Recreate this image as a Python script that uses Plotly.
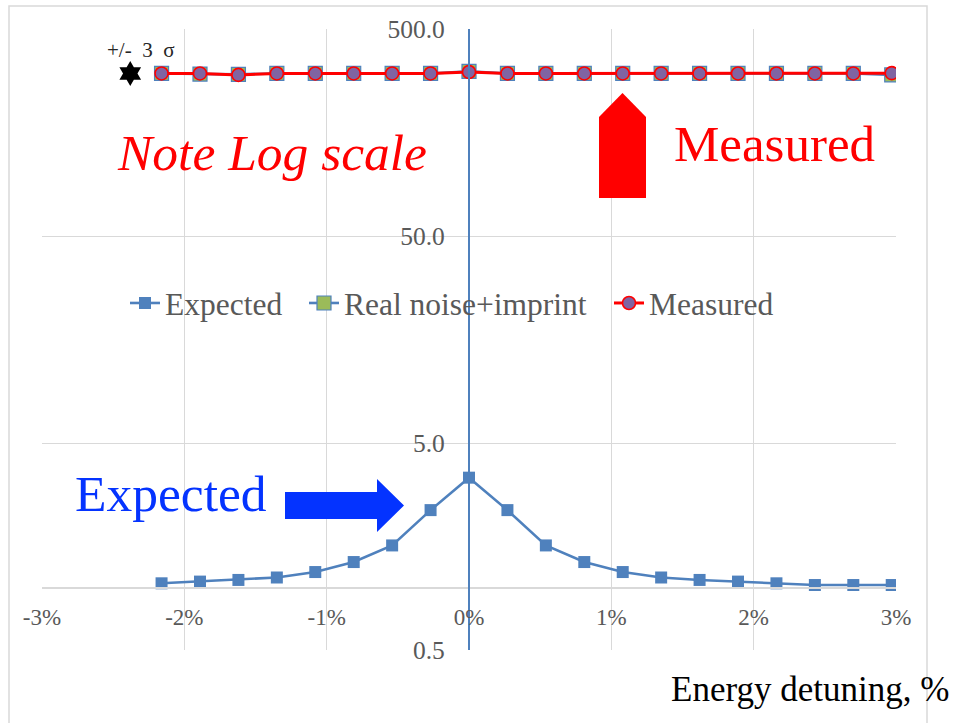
import plotly.graph_objects as go

# Energy detuning (%) of each measurement point
detuning = [-2.16, -1.89, -1.62, -1.35, -1.08, -0.81, -0.54, -0.27, 0.0, 0.27,
            0.54, 0.81, 1.08, 1.35, 1.62, 1.89, 2.16, 2.43, 2.70, 2.97]

expected = [1.05, 1.07, 1.09, 1.12, 1.19, 1.33, 1.60, 2.37, 3.40, 2.37,
            1.60, 1.33, 1.19, 1.12, 1.09, 1.07, 1.05, 1.03, 1.03, 1.03]

real_noise = [305, 303, 302, 305, 305, 305, 305, 305, 312, 305,
              305, 305, 305, 305, 305, 305, 305, 305, 305, 300]

measured = [305, 305, 300, 305, 305, 305, 305, 305, 310, 305,
            305, 305, 305, 305, 305, 305, 305, 305, 305, 306]

x_ticks = [-3, -2, -1, 0, 1, 2, 3]
x_ticktext = ["-3%", "-2%", "-1%", "0%", "1%", "2%", "3%"]
y_ticks = [0.5, 5, 50, 500]
y_ticktext = ["0.5", "5.0", "50.0", "500.0"]

# marker for the +/- 3 sigma note
sigma_x = [-2.38]
sigma_y = [305]

W, H = 954, 723
ML, MR, MT, MB = 42, 58, 29, 73
PW, PH = W - ML - MR, H - MT - MB


def px(x):
    return (x - ML) / PW


def py(y):
    return (H - MB - y) / PH


SERIF = "Liberation Serif"
GREY = "#595959"
BLUE = "#4F81BD"

fig = go.Figure()

fig.add_trace(go.Scatter(
    x=detuning, y=expected, name="Expected", mode="lines+markers",
    line=dict(color=BLUE, width=2.6),
    marker=dict(symbol="square", size=12, color=BLUE),
    legend="legend",
))
fig.add_trace(go.Scatter(
    x=detuning, y=real_noise, name="Real noise+imprint", mode="lines+markers",
    line=dict(color=BLUE, width=2.6),
    marker=dict(symbol="square", size=14, color="#9BBB59",
                line=dict(color=BLUE, width=1.2)),
    legend="legend2",
))
fig.add_trace(go.Scatter(
    x=detuning, y=measured, name="Measured", mode="lines+markers",
    line=dict(color="#FF0000", width=3),
    marker=dict(symbol="circle", size=13, color="#8064A2",
                line=dict(color="#FF0000", width=1.6)),
    legend="legend3",
))
fig.add_trace(go.Scatter(
    x=sigma_x, y=sigma_y, mode="markers", showlegend=False, hoverinfo="skip",
    marker=dict(symbol="hexagram", size=19, color="black"),
))

fig.update_xaxes(
    range=[-3, 3], tickvals=x_ticks, ticktext=x_ticktext,
    showgrid=True, gridcolor="#D9D9D9", gridwidth=1.3, zeroline=False,
    showline=True, linecolor="#D9D9D9", linewidth=2,
    anchor="free", position=0.30103 / 3,
    ticks="", ticklabelstandoff=9,
    tickfont=dict(family=SERIF, size=23, color=GREY),
)
fig.update_yaxes(
    type="log", range=[-0.30103, 2.69897], tickvals=y_ticks, ticktext=y_ticktext,
    showgrid=True, gridcolor="#D9D9D9", gridwidth=1.3, zeroline=False,
    showline=True, linecolor=BLUE, linewidth=2.2,
    anchor="free", position=0.5,
    ticks="", ticklabelstandoff=18,
    tickfont=dict(family=SERIF, size=25.5, color=GREY),
)

shapes = [
    # chart-area border
    dict(type="rect", xref="paper", yref="paper",
         x0=px(9), x1=px(927), y0=py(740), y1=py(6),
         line=dict(color="#D9D9D9", width=1.5), layer="below"),
    # red up arrow
    dict(type="path", xref="paper", yref="paper",
         path=(f"M {px(599)},{py(198)} L {px(599)},{py(117)} L {px(622.5)},{py(93)} "
               f"L {px(646)},{py(117)} L {px(646)},{py(198)} Z"),
         fillcolor="#FF0000", line=dict(width=0)),
    # blue right arrow
    dict(type="path", xref="paper", yref="paper",
         path=(f"M {px(285)},{py(492)} L {px(377)},{py(492)} L {px(377)},{py(479)} "
               f"L {px(404)},{py(505.5)} L {px(377)},{py(532)} L {px(377)},{py(519)} "
               f"L {px(285)},{py(519)} Z"),
         fillcolor="#0433FF", line=dict(width=0)),
]

annotations = [
    dict(text="<i>Note Log scale</i>", xref="paper", yref="paper",
         x=px(115), y=py(152), xanchor="left", yanchor="middle", showarrow=False,
         font=dict(family=SERIF, size=51.5, color="#FF0000")),
    dict(text="Measured", xref="paper", yref="paper",
         x=px(672), y=py(144), xanchor="left", yanchor="middle", showarrow=False,
         font=dict(family=SERIF, size=51, color="#FF0000")),
    dict(text="Expected", xref="paper", yref="paper",
         x=px(73), y=py(493), xanchor="left", yanchor="middle", showarrow=False,
         font=dict(family=SERIF, size=51.5, color="#0433FF")),
    dict(text="+/- \u00a03 \u00a0σ", xref="paper", yref="paper",
         x=px(105), y=py(50), xanchor="left", yanchor="middle", showarrow=False,
         font=dict(family=SERIF, size=21, color="#262626")),
    dict(text="Energy detuning, %", xref="paper", yref="paper",
         x=px(951), y=py(689), xanchor="right", yanchor="middle", showarrow=False,
         font=dict(family=SERIF, size=35, color="black")),
]

legend_style = dict(orientation="h", xanchor="left", yanchor="middle", y=py(303),
                    font=dict(family=SERIF, size=31.5, color=GREY),
                    bgcolor="rgba(0,0,0,0)", itemwidth=30)

fig.update_layout(
    width=W, height=H,
    margin=dict(l=ML, r=MR, t=MT, b=MB),
    paper_bgcolor="white", plot_bgcolor="white",
    shapes=shapes, annotations=annotations,
    showlegend=True,
    legend=dict(x=px(125), **legend_style),
    legend2=dict(x=px(304), **legend_style),
    legend3=dict(x=px(609), **legend_style),
)

fig.write_html("out.html")
